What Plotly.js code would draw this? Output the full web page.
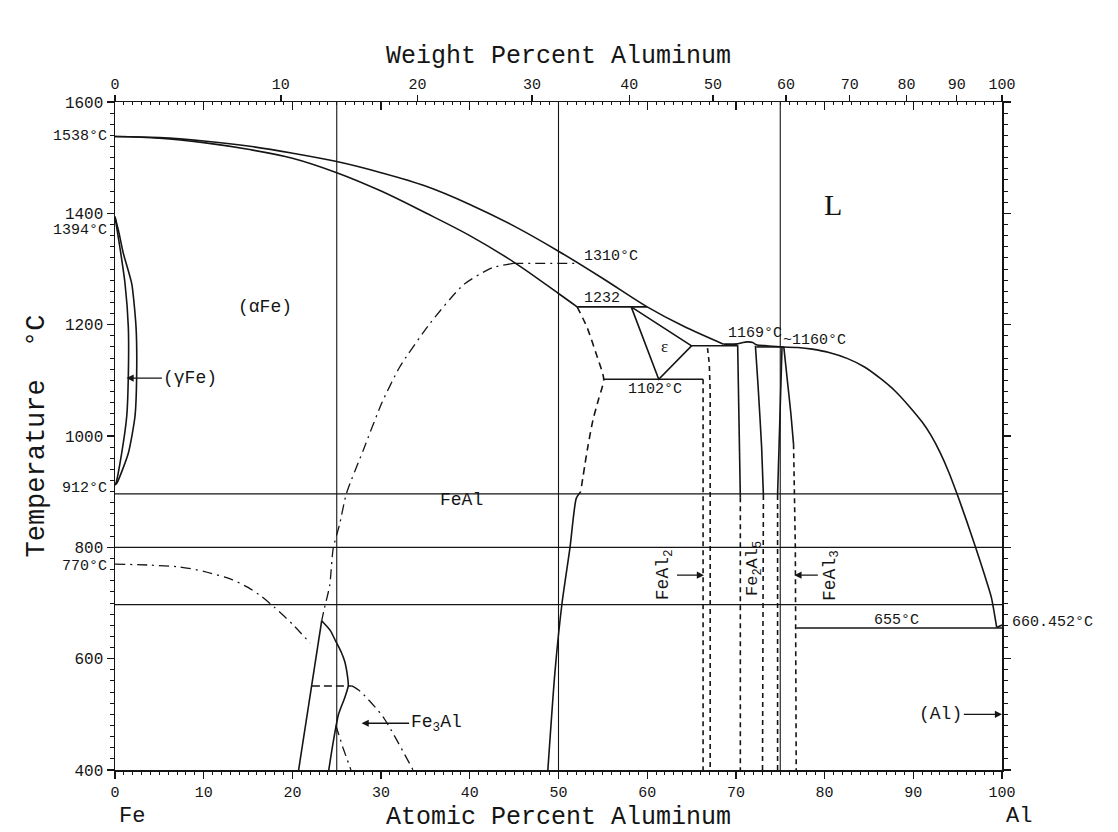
<!DOCTYPE html>
<html><head><meta charset="utf-8">
<script src="https://cdn.plot.ly/plotly-3.0.1.min.js"></script>
<style>body{margin:0;background:#fff}</style>
</head><body><div id="chart" style="width:1118px;height:832px"></div>
<script>
// ---------- axis ticks ----------
const atTicks = [0,10,20,30,40,50,60,70,80,90,100];
const tempTicks = [400,600,800,1000,1200,1400,1600];
const wtTicks = [0,10,20,30,40,50,60,70,80,90,100];

// ---------- phase boundaries (x = at.% Al, T = °C) ----------
const liqFeX = [0,5,10,15,20,25,30,35,40,45,50,55,60,64,68.6];
const liqFeT = [1538,1536,1530,1521,1508,1493,1473,1449,1416,1377,1332,1283,1232,1198,1165];
const solFeX = [0,5,10,15,20,25,30,35,40,45,50,52.1];
const solFeT = [1538,1535,1527,1515,1499,1473,1440,1401,1360,1312,1256,1232];
const liqMidX = [68.6,70.2,70.8,71.3,71.9,72.3,73.5,75.3];
const liqMidT = [1165,1165.5,1168,1169,1168,1164,1162,1160];
const liqAlX = [75.3,77,78.6,80.5,82.6,84.5,86.4,88,89.5,91,92,93,94,95,96,97,98,98.8,99.4];
const liqAlT = [1160,1159,1156,1150,1139,1124,1102,1080,1054,1025,1001,971,935,893,848,801,752,710,656];
const alEndX = [99.4,100], alEndT = [656,660.452];

const gamOutX = [0,0.45,0.94,1.88,2.37,2.44,2.25,1.5,0.2,0];
const gamOutT = [1394,1365,1328,1274,1196,1107,1035,969,915,912];
const gamInX = [0,0.56,1.13,1.5,1.5,1.32,0.75,0.1,0];
const gamInT = [1394,1338,1274,1196,1107,1035,969,915,912];

const per1232X = [52.1,60.0], per1232T = [1232,1232];
const eut1102X = [55.1,66.3], eut1102T = [1102,1102];
const epsX = [58.2,61.3,65.0,58.2], epsT = [1232,1102,1162,1232];
const eut1162X = [65.0,70.2], eut1162T = [1162,1162];
const eut1160X = [72.3,75.4], eut1160T = [1160,1160];

const b2DashX = [52.1,53.2,54.2,55.1,54.5,53.9,53.3,52.5];
const b2DashT = [1232,1196,1150,1102,1065,1030,980,900];
const b2SolX = [52.5,52.0,51.3,50.4,49.6,48.8];
const b2SolT = [900,888,800,700,576,400];

const ordX = [44.9,42.5,39.3,35.5,32.1,30.1,28.0,26.1,25.3,24.6,24.2,23.6,23.3];
const ordT = [1310,1302,1272,1202,1124,1060,975,897,840,798,731,690,668];
const ord1310X = [44.9,52.3], ord1310T = [1310,1310];

const curieAX = [0,4,7.2,10,13.2,15,16.5,18,20,22];
const curieAT = [770,768,765,757,742,728,712,692,662,628];
const curieBX = [26.7,27.6,30.2,33.6];
const curieBT = [551,542,496,400];

const fe3LX = [20.7,23.3], fe3LT = [400,668];
const fe3RX = [23.3,24.3,24.8,25.5,25.9,26.2,26.3,25.9,25.2,24.6,24.1];
const fe3RT = [668,650,634,612,595,570,551,530,500,450,400];
const fe3DashX = [22.2,26.7], fe3DashT = [551,551];
const fe3DdX = [24.9,25.7,26.6], fe3DdT = [480,440,400];

const feAl2LX = [66.3,66.3], feAl2LT = [1102,400];
const feAl2RX = [66.8,67.0,67.1,67.1], feAl2RT = [1158,1130,1080,400];
const fe2Al5LsX = [70.2,70.3,70.4,70.5], fe2Al5LsT = [1163,1050,960,890];
const fe2Al5LdX = [70.5,70.5], fe2Al5LdT = [890,400];
const fe2Al5RsX = [72.2,72.5,72.9,73.1], fe2Al5RsT = [1162,1090,980,894];
const fe2Al5RdX = [73.1,73.0], fe2Al5RdT = [894,400];
const feAl3LsX = [75.2,75.0,74.8,74.7], feAl3LsT = [1160,1050,960,894];
const feAl3LdX = [74.7,74.7], feAl3LdT = [894,400];
const feAl3RsX = [75.4,75.8,76.2,76.5], feAl3RsT = [1160,1100,1040,985];
const feAl3RdX = [76.5,76.7,76.8], feAl3RdT = [985,800,400];
const eut655X = [76.8,100], eut655T = [655,655];

const vLines = [25,50,75];
const hLines = [896,800,697];

// ---------- labels ----------
const tempLabelText = ['1310°C','1232','1102°C','1169°C','~1160°C','655°C'];
const tempLabelX = [52.6,52.6,60.9,68.9,75.1,88.1];
const tempLabelT = [1322,1247,1083,1185,1172,669];
const sideLabelText = ['1538°C','1394°C','912°C','770°C'];
const sideLabelT = [1538,1369,906,766];
const rightLabelText = ['660.452°C'];
const rightLabelT = [665];

// ---------- helpers ----------
const INK = '#151515';
function wt2at(w){ const a=w/26.98, f=(100-w)/55.845; return 100*a/(a+f); }
const traces = [];
function add(x,y,opt){
  opt = opt||{};
  traces.push({x:x, y:y, mode:'lines', xaxis:'x', yaxis:'y', hoverinfo:'skip', showlegend:false,
    line:{color:INK, width:opt.w||1.6, dash:opt.dash||'solid', shape:opt.spline?'spline':'linear', smoothing:opt.sm||0.6}});
}
const DD = '10px,5px,2px,5px';
const DS = '5px,4px';
const DL = '7px,5px';

vLines.forEach(v=>add([v,v],[400,1600],{w:1.1}));
hLines.forEach(h=>add([0,100],[h,h],{w:1.1}));

add(liqFeX,liqFeT,{spline:true,sm:1});
add(solFeX,solFeT,{spline:true,sm:1});
add(liqMidX,liqMidT,{spline:true});
add(liqAlX,liqAlT,{spline:true});
add(alEndX,alEndT);
add(gamOutX,gamOutT,{spline:true});
add(gamInX,gamInT,{spline:true});
add(per1232X,per1232T);
add(eut1102X,eut1102T);
add(epsX,epsT);
add(eut1162X,eut1162T);
add(eut1160X,eut1160T);
add(b2DashX,b2DashT,{dash:DL,spline:true});
add(b2SolX,b2SolT,{spline:true});
add(ordX,ordT,{dash:DD,spline:true,w:1.3});
add(ord1310X,ord1310T,{dash:DD,w:1.3});
add(curieAX,curieAT,{dash:DD,spline:true,w:1.3});
add(curieBX,curieBT,{dash:DD,spline:true,w:1.3});
add(fe3LX,fe3LT);
add(fe3RX,fe3RT,{spline:true});
add(fe3DashX,fe3DashT,{dash:'8px,4px'});
add(fe3DdX,fe3DdT,{dash:DD,w:1.3});
add(feAl2LX,feAl2LT,{dash:DS});
add(feAl2RX,feAl2RT,{dash:DS});
add(fe2Al5LsX,fe2Al5LsT);
add(fe2Al5LdX,fe2Al5LdT,{dash:DS});
add(fe2Al5RsX,fe2Al5RsT,{spline:true});
add(fe2Al5RdX,fe2Al5RdT,{dash:DS});
add(feAl3LsX,feAl3LsT);
add(feAl3LdX,feAl3LdT,{dash:DS});
add(feAl3RsX,feAl3RsT,{spline:true});
add(feAl3RdX,feAl3RdT,{dash:DS});
add(eut655X,eut655T);

// dummy traces so the top axes are drawn
traces.push({x:[0,100],y:[400,400],xaxis:'x2',yaxis:'y',mode:'lines',opacity:0,hoverinfo:'skip',showlegend:false});
traces.push({x:[0,100],y:[400,400],xaxis:'x3',yaxis:'y',mode:'lines',opacity:0,hoverinfo:'skip',showlegend:false});

const MONO = 'Liberation Mono, DejaVu Sans Mono, monospace';
const SERIF = 'Liberation Serif, DejaVu Serif, serif';
const ann = [];
tempLabelText.forEach((t,i)=>{
  ann.push({x:tempLabelX[i], y:tempLabelT[i], xref:'x', yref:'y', text:t, showarrow:false,
    xanchor:(i===2||i===5)?'center':'left', yanchor:'middle', font:{family:MONO,size:15,color:INK}});
});
sideLabelText.forEach((t,i)=>{
  ann.push({x:0, y:sideLabelT[i], xref:'paper', yref:'y', text:t, showarrow:false, xanchor:'right', xshift:-6,
    yanchor:'middle', font:{family:MONO,size:15,color:INK}});
});
rightLabelText.forEach((t,i)=>{
  ann.push({x:1, y:rightLabelT[i], xref:'paper', yref:'y', text:t, showarrow:false, xanchor:'left', xshift:8,
    yanchor:'middle', font:{family:MONO,size:15,color:INK}});
});
// phase labels
ann.push({x:16.9,y:1232,xref:'x',yref:'y',text:'(αFe)',showarrow:false,font:{family:MONO,size:18,color:INK}});
ann.push({x:39.1,y:885,xref:'x',yref:'y',text:'FeAl',showarrow:false,font:{family:MONO,size:18,color:INK}});
ann.push({x:81,y:1415,xref:'x',yref:'y',text:'L',showarrow:false,font:{family:SERIF,size:30,color:INK}});
ann.push({x:62.0,y:1160,xref:'x',yref:'y',text:'ε',showarrow:false,font:{family:SERIF,size:17,color:INK}});
ann.push({x:72.1,y:762,xref:'x',yref:'y',text:'Fe<sub>2</sub>Al<sub>5</sub>',textangle:-90,showarrow:false,font:{family:MONO,size:17,color:INK}});
// arrowed labels
function arrowLabel(text, tx, ty, hx, hy, angle){
  ann.push({x:hx,y:hy,ax:tx,ay:ty,xref:'x',yref:'y',axref:'x',ayref:'y',text:text,textangle:angle||0,
    showarrow:true,arrowhead:2,arrowsize:1.1,arrowwidth:1.3,arrowcolor:INK,standoff:0,
    font:{family:MONO,size:18,color:INK}});
}
arrowLabel('(γFe)', 8.5, 1104, 1.3, 1104);
arrowLabel('Fe<sub>3</sub>Al', 36.2, 484, 27.8, 484);
arrowLabel('(Al)', 93.1, 500, 100, 500);
arrowLabel('FeAl<sub>2</sub>', 61.9, 750, 66.4, 750, -90);
arrowLabel('FeAl<sub>3</sub>', 80.7, 750, 76.6, 750, -90);
// element labels
ann.push({x:0,y:-0.07,xref:'paper',yref:'paper',text:'Fe',showarrow:false,xanchor:'left',xshift:2,yanchor:'middle',font:{family:MONO,size:22,color:INK}});
ann.push({x:1,y:-0.07,xref:'paper',yref:'paper',text:'Al',showarrow:false,xanchor:'left',xshift:2,yanchor:'middle',font:{family:MONO,size:22,color:INK}});

const axBase = {showgrid:false, zeroline:false, tickcolor:INK, linecolor:INK, tickwidth:1.3};
const layout = {
  width:1118, height:832, margin:{l:115,r:116,t:102,b:62,autoexpand:false},
  paper_bgcolor:'#ffffff', plot_bgcolor:'#ffffff', showlegend:false,
  font:{family:MONO, color:INK, size:15},
  xaxis:Object.assign({}, axBase, {range:[0,100], autorange:false, tickmode:'array', tickvals:atTicks,
    ticktext:atTicks.map(String), ticks:'outside', ticklen:7, showline:true, linewidth:1.5, mirror:true,
    minor:{tickmode:'linear', tick0:0, dtick:1, ticks:'outside', ticklen:3, tickwidth:1, tickcolor:INK},
    tickfont:{family:MONO,size:15,color:INK},
    title:{text:'Atomic Percent Aluminum', font:{family:MONO,size:25,color:INK}, standoff:10}}),
  xaxis2:Object.assign({}, axBase, {overlaying:'x', side:'top', range:[0,100], autorange:false, tickmode:'array',
    tickvals:wtTicks.map(wt2at), ticktext:wtTicks.map(String), ticks:'outside', ticklen:6, showline:false,
    tickfont:{family:MONO,size:15,color:INK},
    title:{text:'Weight Percent Aluminum', font:{family:MONO,size:25,color:INK}, standoff:6}}),
  xaxis3:Object.assign({}, axBase, {overlaying:'x', side:'top', range:[0,100], autorange:false, tickmode:'array',
    tickvals:atTicks, ticks:'inside', ticklen:8, showticklabels:false, showline:false,
    minor:{tickmode:'linear', tick0:0, dtick:1, ticks:'inside', ticklen:3, tickwidth:1, tickcolor:INK}}),
  yaxis:Object.assign({}, axBase, {range:[400,1600], autorange:false, tickmode:'array', tickvals:tempTicks,
    ticktext:tempTicks.map(String), ticks:'outside', ticklen:7, showline:true, linewidth:1.5, mirror:'ticks',
    minor:{tickmode:'linear', tick0:400, dtick:20, ticks:'outside', ticklen:4, tickwidth:1, tickcolor:INK},
    tickfont:{family:MONO,size:16,color:INK},
    title:{text:'Temperature\u00a0\u00a0°C', font:{family:MONO,size:27,color:INK}, standoff:12}}),
  annotations:ann
};
Plotly.newPlot('chart', traces, layout, {staticPlot:true, displayModeBar:false});
</script></body></html>
